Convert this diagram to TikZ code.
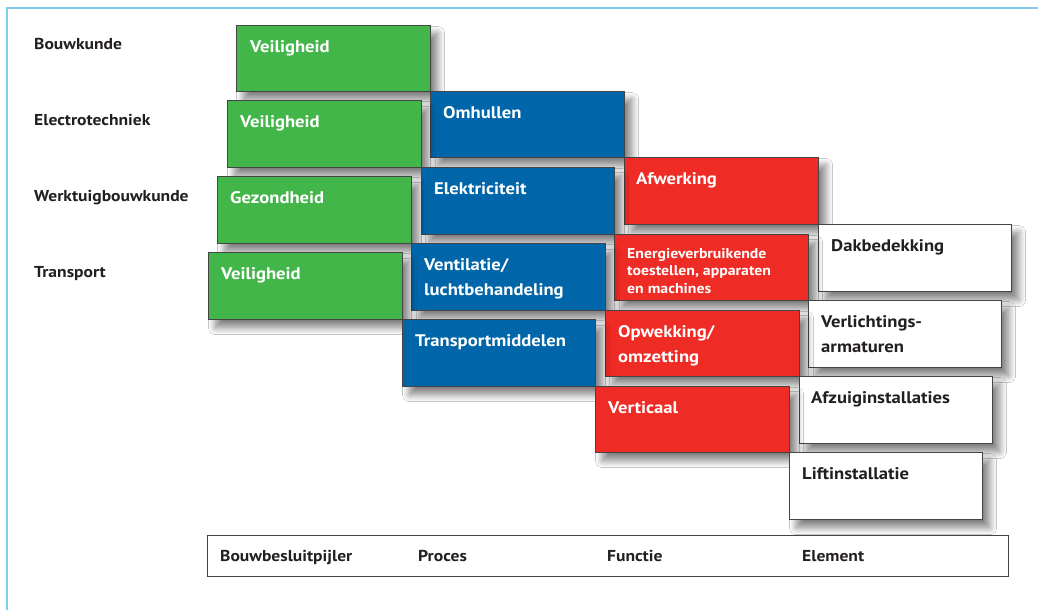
\documentclass[tikz,border=0pt]{standalone}
\usepackage{fontspec}
\setmainfont{PT Sans}[FakeStretch=1.11]
\usetikzlibrary{shadows.blur}

\definecolor{frameblue}{HTML}{80CDEF}
\definecolor{boxline}{HTML}{444444}
\definecolor{pgreen}{HTML}{43B64A}
\definecolor{pblue}{HTML}{0066A9}
\definecolor{pred}{HTML}{EE2B24}
\definecolor{darktext}{HTML}{231F20}

\tikzset{
  box/.style={draw=boxline, line width=1.2pt, anchor=north west, inner sep=0pt,
    blur shadow={shadow xshift=7pt, shadow yshift=-8pt, shadow blur radius=7pt,
      shadow blur steps=16, shadow opacity=50}},
  greenbox/.style={box, fill=pgreen},
  bluebox/.style={box, fill=pblue},
  redbox/.style={box, fill=pred},
  whitebox/.style={box, fill=white},
  lbl/.style={anchor=north west, inner sep=0pt, align=left, text=white,
    font=\bfseries\fontsize{16.8}{25}\selectfont},
  darklbl/.style={lbl, text=darktext},
  smalllbl/.style={lbl, font=\bfseries\fontsize{14.2}{17.5}\selectfont},
  rowlbl/.style={anchor=base west, inner sep=0pt, text=darktext,
    font=\bfseries\fontsize{15.8}{18}\selectfont},
}

% a box spanning (x1,y1)--(x2,y2) in pixel units, y running downwards
\newcommand{\pbox}[6]{%
  \node[#1, minimum width={#4-#2}, minimum height={#5-#3}] (#6) at (#2,#3) {};}

\begin{document}
\begin{tikzpicture}[x=1pt, y=-1pt]
\useasboundingbox (0,0) rectangle (1038,610);
\fill[white] (0,0) rectangle (1038,610);

% frame lines
\draw[frameblue, line width=2.2pt] (7,610) -- (7,8) -- (1038,8);

% row labels
\node[rowlbl] (lbouw)  at (34,49)  {Bouwkunde};
\node[rowlbl] (lelec)  at (34,125) {Electrotechniek};
\node[rowlbl] (lwerk)  at (34,201) {Werktuigbouwkunde};
\node[rowlbl] (ltrans) at (34,277) {Transport};

% boxes, drawn from top to bottom so each covers the shadows above it
\pbox{greenbox}{236}{25}{430}{91}{g1}
\node[lbl] (tg1) at ([xshift=14pt,yshift=-15pt]g1.north west) {Veiligheid};
\pbox{bluebox}{430}{91}{624}{157}{b1}
\node[lbl] (tb1) at ([xshift=13pt,yshift=-15pt]b1.north west) {Omhullen};
\pbox{greenbox}{227}{100}{421}{167}{g2}
\node[lbl] (tg2) at ([xshift=13pt,yshift=-15pt]g2.north west) {Veiligheid};
\pbox{redbox}{624}{157}{818}{224}{r1}
\node[lbl] (tr1) at ([xshift=12pt,yshift=-15pt]r1.north west) {Afwerking};
\pbox{bluebox}{421}{167}{614}{234}{b2}
\node[lbl] (tb2) at ([xshift=13pt,yshift=-15pt]b2.north west) {Elektriciteit};
\pbox{greenbox}{217}{176}{411}{243}{g3}
\node[lbl] (tg3) at ([xshift=13pt,yshift=-15pt]g3.north west) {Gezondheid};
\pbox{whitebox}{818}{224}{1011}{291}{w1}
\node[darklbl] (tw1) at ([xshift=13pt,yshift=-15pt]w1.north west) {Dakbedekking};
\pbox{redbox}{614}{234}{808}{300}{r2}
\node[smalllbl] (tr2) at ([xshift=13pt,yshift=-14pt]r2.north west) {Energieverbruikende\\toestellen, apparaten\\en machines};
\pbox{bluebox}{411}{243}{605}{310}{b3}
\node[lbl] (tb3) at ([xshift=13pt,yshift=-15pt]b3.north west) {Ventilatie/\\luchtbehandeling};
\pbox{greenbox}{208}{252}{402}{319}{g4}
\node[lbl] (tg4) at ([xshift=13pt,yshift=-15pt]g4.north west) {Veiligheid};
\pbox{whitebox}{808}{300}{1001}{367}{w2}
\node[darklbl] (tw2) at ([xshift=13pt,yshift=-15pt]w2.north west) {Verlichtings-\\armaturen};
\pbox{redbox}{605}{310}{799}{376}{r3}
\node[lbl] (tr3) at ([xshift=13pt,yshift=-15pt]r3.north west) {Opwekking/\\omzetting};
\pbox{bluebox}{402}{319}{595}{386}{b4}
\node[lbl] (tb4) at ([xshift=13pt,yshift=-15pt]b4.north west) {Transportmiddelen};
\pbox{whitebox}{799}{376}{992}{443}{w3}
\node[darklbl] (tw3) at ([xshift=12pt,yshift=-15pt]w3.north west) {Afzuiginstallaties};
\pbox{redbox}{595}{386}{789}{452}{r4}
\node[lbl] (tr4) at ([xshift=13pt,yshift=-15pt]r4.north west) {Verticaal};
\pbox{whitebox}{789}{452}{982}{519}{w4}
\node[darklbl] (tw4) at ([xshift=13pt,yshift=-15pt]w4.north west) {Liftinstallatie};

% bottom axis bar
\node[draw=boxline, line width=1.2pt, fill=white, anchor=north west, inner sep=0pt,
  minimum width=801pt, minimum height=41pt] (bar) at (207,535) {};
\node[rowlbl] (abouw) at (220,561) {Bouwbesluitpijler};
\node[rowlbl] (aproc) at (418,561) {Proces};
\node[rowlbl] (afunc) at (607,561) {Functie};
\node[rowlbl] (aelem) at (802,561) {Element};
\end{tikzpicture}
\end{document}
